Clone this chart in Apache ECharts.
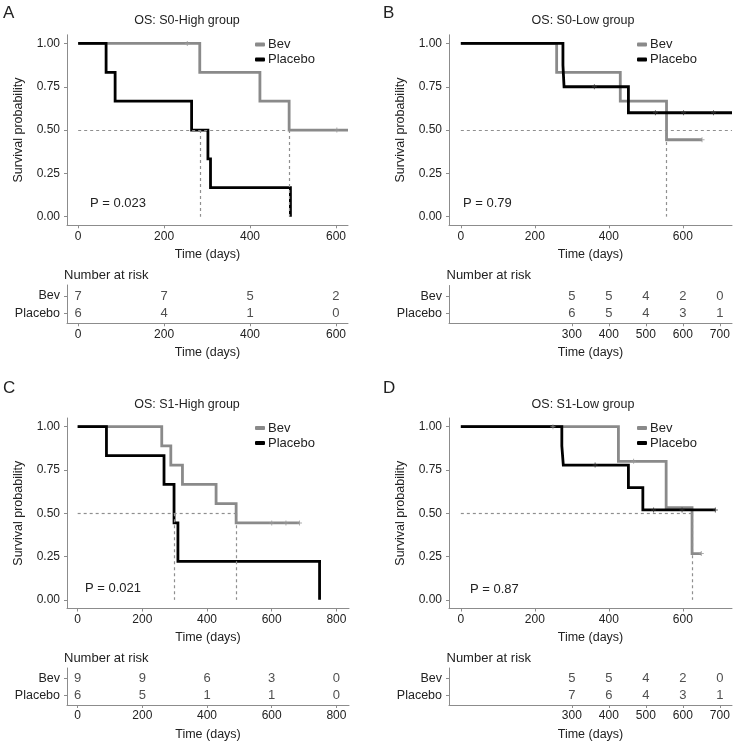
<!DOCTYPE html>
<html><head><meta charset="utf-8">
<script src="https://cdn.jsdelivr.net/npm/echarts@6/dist/echarts.min.js"></script>
<style>html,body{margin:0;padding:0;background:#fff}#c{width:740px;height:744px}</style>
</head><body><div id="c"></div>
<script>
// ---------------- DATA ----------------
const titles = ['OS: S0-High group', 'OS: S0-Low group', 'OS: S1-High group', 'OS: S1-Low group'];
const panelLetters = ['A', 'B', 'C', 'D'];
const pValues = ['P = 0.023', 'P = 0.79', 'P = 0.021', 'P = 0.87'];
const groups = ['Bev', 'Placebo'];
const survTicks = [0, 0.25, 0.5, 0.75, 1];

// Panel A
const A_bevTime = [0, 283, 423, 491, 628];
const A_bevSurv = [1, 0.833, 0.667, 0.5, 0.5];
const A_plaTime = [0, 65, 86, 264, 302, 308, 494];
const A_plaSurv = [1, 0.833, 0.667, 0.5, 0.333, 0.167, 0];
const A_bevCensTime = [254, 602];
const A_bevCensSurv = [1, 0.5];
const A_plaCensTime = [];
const A_plaCensSurv = [];
const A_medians = [283, 491];
const A_medianEnd = 491;
const A_timeTicks = [0, 200, 400, 600];
const A_riskTimes = [0, 200, 400, 600];
const A_riskBev = [7, 7, 5, 2];
const A_riskPla = [6, 4, 1, 0];

// Panel B
const B_bevTime = [0, 259, 431, 556, 652];
const B_bevSurv = [1, 0.833, 0.667, 0.444, 0.444];
const B_plaTime = [0, 276, 279, 453, 733];
const B_plaSurv = [1, 0.875, 0.75, 0.6, 0.6];
const B_bevCensTime = [652];
const B_bevCensSurv = [0.444];
const B_plaCensTime = [361, 526, 602, 683];
const B_plaCensSurv = [0.75, 0.6, 0.6, 0.6];
const B_medians = [555];
const B_medianEnd = 733;
const B_timeTicks = [0, 200, 400, 600];
const B_riskTimes = [300, 400, 500, 600, 700];
const B_riskBev = [5, 5, 4, 2, 0];
const B_riskPla = [6, 5, 4, 3, 1];

// Panel C
const C_bevTime = [0, 260, 288, 324, 428, 490, 686];
const C_bevSurv = [1, 0.889, 0.778, 0.667, 0.556, 0.444, 0.444];
const C_plaTime = [0, 89, 267, 298, 310, 748];
const C_plaSurv = [1, 0.833, 0.667, 0.444, 0.222, 0];
const C_bevCensTime = [600, 644, 686];
const C_bevCensSurv = [0.444, 0.444, 0.444];
const C_plaCensTime = [];
const C_plaCensSurv = [];
const C_medians = [299, 490];
const C_medianEnd = 490;
const C_timeTicks = [0, 200, 400, 600, 800];
const C_riskTimes = [0, 200, 400, 600, 800];
const C_riskBev = [9, 9, 6, 3, 0];
const C_riskPla = [6, 5, 1, 1, 0];

// Panel D
const D_bevTime = [0, 426, 555, 625, 650];
const D_bevSurv = [1, 0.8, 0.533, 0.267, 0.267];
const D_plaTime = [0, 273, 277, 453, 492, 688];
const D_plaSurv = [1, 0.889, 0.778, 0.648, 0.519, 0.519];
const D_bevCensTime = [249, 467, 650];
const D_bevCensSurv = [1, 0.8, 0.267];
const D_plaCensTime = [363, 521, 598, 688];
const D_plaCensSurv = [0.778, 0.519, 0.519, 0.519];
const D_medians = [626];
const D_medianEnd = 626;
const D_timeTicks = [0, 200, 400, 600];
const D_riskTimes = [300, 400, 500, 600, 700];
const D_riskBev = [5, 5, 4, 2, 0];
const D_riskPla = [7, 6, 4, 3, 1];

// ---------------- LAYOUT / STYLE ----------------
const FONT = 'Liberation Sans, Arial, Helvetica, sans-serif';
const TXT = '#222';
const AXC = '#8c8c8c';
const GREY = '#8a8a8a';
const BLACK = '#000';

const panels = [
  {bevT: A_bevTime, bevS: A_bevSurv, plaT: A_plaTime, plaS: A_plaSurv, bcT: A_bevCensTime, bcS: A_bevCensSurv, pcT: A_plaCensTime, pcS: A_plaCensSurv, med: A_medians, medEnd: A_medianEnd, ticks: A_timeTicks, rT: A_riskTimes, rB: A_riskBev, rP: A_riskPla},
  {bevT: B_bevTime, bevS: B_bevSurv, plaT: B_plaTime, plaS: B_plaSurv, bcT: B_bevCensTime, bcS: B_bevCensSurv, pcT: B_plaCensTime, pcS: B_plaCensSurv, med: B_medians, medEnd: B_medianEnd, ticks: B_timeTicks, rT: B_riskTimes, rB: B_riskBev, rP: B_riskPla},
  {bevT: C_bevTime, bevS: C_bevSurv, plaT: C_plaTime, plaS: C_plaSurv, bcT: C_bevCensTime, bcS: C_bevCensSurv, pcT: C_plaCensTime, pcS: C_plaCensSurv, med: C_medians, medEnd: C_medianEnd, ticks: C_timeTicks, rT: C_riskTimes, rB: C_riskBev, rP: C_riskPla},
  {bevT: D_bevTime, bevS: D_bevSurv, plaT: D_plaTime, plaS: D_plaSurv, bcT: D_bevCensTime, bcS: D_bevCensSurv, pcT: D_plaCensTime, pcS: D_plaCensSurv, med: D_medians, medEnd: D_medianEnd, ticks: D_timeTicks, rT: D_riskTimes, rB: D_riskBev, rP: D_riskPla}
];

const layout = [
  {main: {left: 67, top: 34.8, width: 281, height: 190.5}, table: {left: 67, top: 285, width: 281, height: 38.3}, xr: [-26, 628],
   title: [187, 21], letter: [3, 13], p: [90, 203.5], legend: [255, 37.5], nar: [64, 275]},
  {main: {left: 449, top: 34.8, width: 283, height: 190.5}, table: {left: 449, top: 285.5, width: 283, height: 37.8}, xr: [-32, 733],
   title: [583, 21], letter: [383, 13], p: [463, 203.5], legend: [637, 37.5], nar: [446.5, 275]},
  {main: {left: 67, top: 418, width: 282, height: 190.5}, table: {left: 67, top: 668, width: 282, height: 37}, xr: [-33, 839],
   title: [187, 405], letter: [3, 388.5], p: [85, 588.5], legend: [255, 421], nar: [64, 658.5]},
  {main: {left: 449, top: 418, width: 283, height: 190.5}, table: {left: 449, top: 668, width: 283, height: 37}, xr: [-32, 733],
   title: [583, 405], letter: [383, 388.5], p: [470, 589.5], legend: [637, 421], nar: [446.5, 658.5]}
];

const zip = (a, b) => a.map((v, i) => [v, b[i]]);
const plusSym = 'path://M4,0H6V4H10V6H6V10H4V6H0V4H4Z';

const axisLineStyle = {show: true, onZero: false, lineStyle: {color: AXC, width: 1}};
const axisTickStyle = (vals) => ({show: true, length: 3, lineStyle: {color: AXC, width: 1}, customValues: vals});

const grid = [], xAxis = [], yAxis = [], series = [], legend = [], graphic = [];

panels.forEach((p, i) => {
  const L = layout[i];
  const gMain = i * 2, gTab = i * 2 + 1;
  grid.push(Object.assign({containLabel: false}, L.main));
  grid.push(Object.assign({containLabel: false}, L.table));

  // main axes
  xAxis.push({type: 'value', gridIndex: gMain, min: L.xr[0], max: L.xr[1],
    name: 'Time (days)', nameLocation: 'middle', nameGap: 23,
    nameTextStyle: {fontSize: 12.5, color: TXT, fontFamily: FONT},
    axisLine: axisLineStyle, axisTick: axisTickStyle(p.ticks), splitLine: {show: false},
    axisLabel: {customValues: p.ticks, margin: 5, fontSize: 12, color: TXT, fontFamily: FONT}});
  yAxis.push({type: 'value', gridIndex: gMain, min: -0.05, max: 1.05,
    name: 'Survival probability', nameLocation: 'middle', nameGap: 42,
    nameTextStyle: {fontSize: 12.5, color: TXT, fontFamily: FONT},
    axisLine: axisLineStyle, axisTick: axisTickStyle(survTicks), splitLine: {show: false},
    axisLabel: {customValues: survTicks, margin: 7, fontSize: 12, color: TXT, fontFamily: FONT,
      formatter: v => Number(v).toFixed(2)}});

  // table axes
  xAxis.push({type: 'value', gridIndex: gTab, min: L.xr[0], max: L.xr[1],
    name: 'Time (days)', nameLocation: 'middle', nameGap: 23,
    nameTextStyle: {fontSize: 12.5, color: TXT, fontFamily: FONT},
    axisLine: axisLineStyle, axisTick: axisTickStyle(p.rT), splitLine: {show: false},
    axisLabel: {customValues: p.rT, margin: 5, fontSize: 12, color: TXT, fontFamily: FONT}});
  yAxis.push({type: 'value', gridIndex: gTab, min: 0.45, max: 2.62,
    axisLine: axisLineStyle, axisTick: axisTickStyle([1, 2]), splitLine: {show: false},
    axisLabel: {customValues: [1, 2], margin: 7, fontSize: 12.5, color: TXT, fontFamily: FONT,
      formatter: v => (Math.round(v) === 2 ? groups[0] : groups[1])}});

  const medData = [[{coord: [0, 0.5]}, {coord: [p.medEnd, 0.5]}]].concat(
    p.med.map(m => [{coord: [m, 0.5]}, {coord: [m, 0]}]));

  series.push({
    name: groups[0], type: 'line', step: 'end', xAxisIndex: gMain, yAxisIndex: gMain,
    data: zip(p.bevT, p.bevS), showSymbol: false, symbol: 'none', z: 3,
    itemStyle: {color: GREY}, lineStyle: {color: GREY, width: 2.8, join: 'miter'},
    markLine: {silent: true, symbol: ['none', 'none'], label: {show: false},
      lineStyle: {color: '#8f8f8f', width: 1.2, type: [3, 3]}, emphasis: {disabled: true},
      data: medData}
  });
  series.push({
    name: groups[1], type: 'line', step: 'end', xAxisIndex: gMain, yAxisIndex: gMain,
    data: zip(p.plaT, p.plaS), showSymbol: false, symbol: 'none', z: 4,
    itemStyle: {color: BLACK}, lineStyle: {color: BLACK, width: 2.8, join: 'miter'}
  });
  series.push({
    name: groups[0], type: 'scatter', xAxisIndex: gMain, yAxisIndex: gMain, z: 5,
    data: zip(p.bcT, p.bcS), symbol: plusSym, symbolSize: 5, itemStyle: {color: '#9a9a9a'}
  });
  series.push({
    name: groups[1], type: 'scatter', xAxisIndex: gMain, yAxisIndex: gMain, z: 5,
    data: zip(p.pcT, p.pcS), symbol: plusSym, symbolSize: 5, itemStyle: {color: '#333'}
  });
  // risk table
  const riskLabel = {show: true, position: 'inside', formatter: q => String(q.value[2]),
    fontSize: 13, color: TXT, fontFamily: FONT};
  series.push({
    type: 'scatter', xAxisIndex: gTab, yAxisIndex: gTab, symbolSize: 1,
    itemStyle: {color: 'rgba(0,0,0,0)'}, label: riskLabel,
    data: p.rT.map((t, k) => [t, 2, p.rB[k]])
  });
  series.push({
    type: 'scatter', xAxisIndex: gTab, yAxisIndex: gTab, symbolSize: 1,
    itemStyle: {color: 'rgba(0,0,0,0)'}, label: riskLabel,
    data: p.rT.map((t, k) => [t, 1, p.rP[k]])
  });

  legend.push({
    data: groups, orient: 'vertical', left: L.legend[0], top: L.legend[1], padding: 0,
    icon: 'roundRect', itemWidth: 10, itemHeight: 4, itemGap: 1, selectedMode: false,
    textStyle: {fontSize: 13, color: TXT, fontFamily: FONT, lineHeight: 14, padding: [0, 0, 0, -2]}
  });

  graphic.push({type: 'text', x: L.title[0], y: L.title[1],
    style: {text: titles[i], font: '12.5px ' + FONT, fill: TXT, align: 'center', verticalAlign: 'middle', textAlign: 'center', textVerticalAlign: 'middle'}});
  graphic.push({type: 'text', x: L.letter[0], y: L.letter[1],
    style: {text: panelLetters[i], font: '17px ' + FONT, fill: TXT, align: 'left', verticalAlign: 'middle', textAlign: 'left', textVerticalAlign: 'middle'}});
  graphic.push({type: 'text', x: L.p[0], y: L.p[1],
    style: {text: pValues[i], font: '13px ' + FONT, fill: TXT, align: 'left', verticalAlign: 'middle', textAlign: 'left', textVerticalAlign: 'middle'}});
  graphic.push({type: 'text', x: L.nar[0], y: L.nar[1],
    style: {text: 'Number at risk', font: '13px ' + FONT, fill: TXT, align: 'left', verticalAlign: 'middle', textAlign: 'left', textVerticalAlign: 'middle'}});
});

const chart = echarts.init(document.getElementById('c'), null, {renderer: 'canvas'});
chart.setOption({
  animation: false,
  backgroundColor: '#fff',
  textStyle: {fontFamily: FONT},
  grid, xAxis, yAxis, series, legend, graphic
});
</script>
</body></html>
